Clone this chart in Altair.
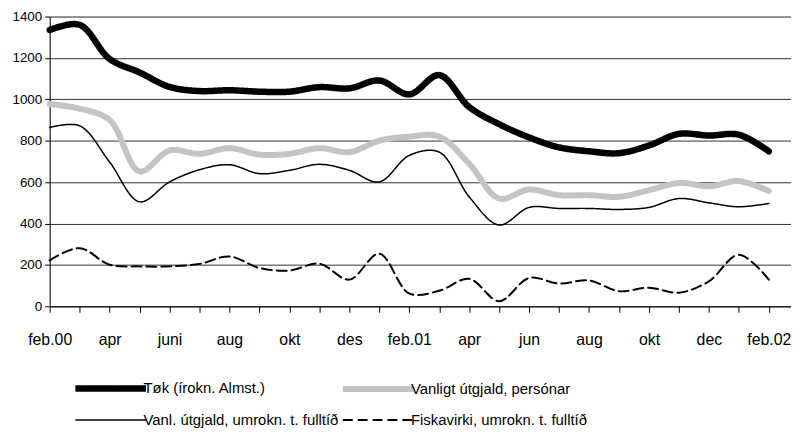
import altair as alt
import pandas as pd

# ---- data ----
tick_labels = ["feb.00", "", "apr", "", "juni", "", "aug", "", "okt", "", "des", "",
               "feb.01", "", "apr", "", "jun", "", "aug", "", "okt", "", "dec", "", "feb.02"]

series_names = ["Tøk (írokn. Almst.)", "Vanligt útgjald, persónar",
                "Vanl. útgjald, umrokn. t. fulltíð", "Fiskavirki, umrokn. t. fulltíð"]

tok = [1335, 1360, 1195, 1130, 1060, 1040, 1044, 1037, 1037, 1059, 1053, 1091, 1024,
       1117, 963, 880, 816, 768, 749, 740, 777, 833, 825, 829, 749]
vanligt = [977, 955, 900, 652, 753, 737, 764, 733, 737, 764, 745, 800, 820,
           820, 689, 521, 564, 537, 537, 529, 561, 596, 580, 605, 557]
vanl_fulltid = [864, 872, 697, 505, 601, 660, 684, 641, 657, 686, 657, 601, 729,
                745, 529, 393, 478, 473, 473, 468, 478, 521, 500, 481, 497]
fisk = [222, 281, 201, 193, 193, 205, 241, 185, 173, 206, 129, 254, 62,
        75, 133, 25, 137, 110, 125, 73, 90, 66, 121, 249, 129]

y_ticks = [0, 200, 400, 600, 800, 1000, 1200, 1400]

# styles per series
colors = ["#000000", "#c4c4c4", "#000000", "#000000"]
widths = [6.5, 6, 1.5, 2]
dashes = [[1, 0], [1, 0], [1, 0], [10, 5]]

rows = []
for name, w, vals in zip(series_names, widths, [tok, vanligt, vanl_fulltid, fisk]):
    for i, v in enumerate(vals):
        rows.append({"month": i, "value": v, "series": name, "sw": w})
df = pd.DataFrame(rows)

FONT = "Liberation Sans, Arial, sans-serif"
label_expr = "[" + ",".join("'" + t + "'" for t in tick_labels) + "][datum.value]"

sw_expr = ""
for name, w in zip(series_names[:-1], widths[:-1]):
    sw_expr += "datum.value === '" + name + "' ? " + str(w) + " : "
sw_expr += str(widths[-1])

legend = alt.Legend(
    title=None, orient="none", legendX=54, legendY=367, columns=2, direction="horizontal",
    symbolType="M-5,0H5", symbolSize=203, labelFont=FONT, labelFontSize=15,
    labelColor="black", labelOffset=25.5, labelLimit=400, columnPadding=-8.5,
    rowPadding=11, symbolStrokeWidth=alt.ExprRef(expr=sw_expr),
)

chart = alt.Chart(df).mark_line(
    interpolate="catmull-rom", strokeCap="round", strokeJoin="round"
).encode(
    x=alt.X("month:Q",
            scale=alt.Scale(domain=[0, 24.74], nice=False, zero=False),
            axis=alt.Axis(values=list(range(25)), labelExpr=label_expr, title=None,
                          grid=False, labelFont=FONT, labelFontSize=16, labelColor="black",
                          tickSize=6, tickColor="black", domainColor="black",
                          labelPadding=19, labelFlush=False, labelOverlap=False)),
    y=alt.Y("value:Q",
            scale=alt.Scale(domain=[0, 1400], nice=False),
            axis=alt.Axis(values=y_ticks, format="d", title=None, grid=True,
                          gridColor="#333333", gridWidth=1, labelFont=FONT,
                          labelFontSize=13.5, labelColor="black",
                          tickSize=5, tickColor="black", domainColor="black",
                          labelPadding=3)),
    color=alt.Color("series:N",
                    scale=alt.Scale(domain=series_names, range=colors),
                    legend=legend),
    strokeDash=alt.StrokeDash("series:N",
                              scale=alt.Scale(domain=series_names, range=dashes),
                              legend=legend),
    strokeWidth=alt.StrokeWidth("sw:Q", scale=None, legend=None),
).properties(
    width=747, height=292,
    autosize=alt.AutoSizeParams(type="none"),
    padding={"left": 42, "top": 7, "right": 0, "bottom": 122},
).configure_view(stroke=None).configure(background="white")

chart.save("out.html", embed_options={"renderer": "svg", "actions": False})
